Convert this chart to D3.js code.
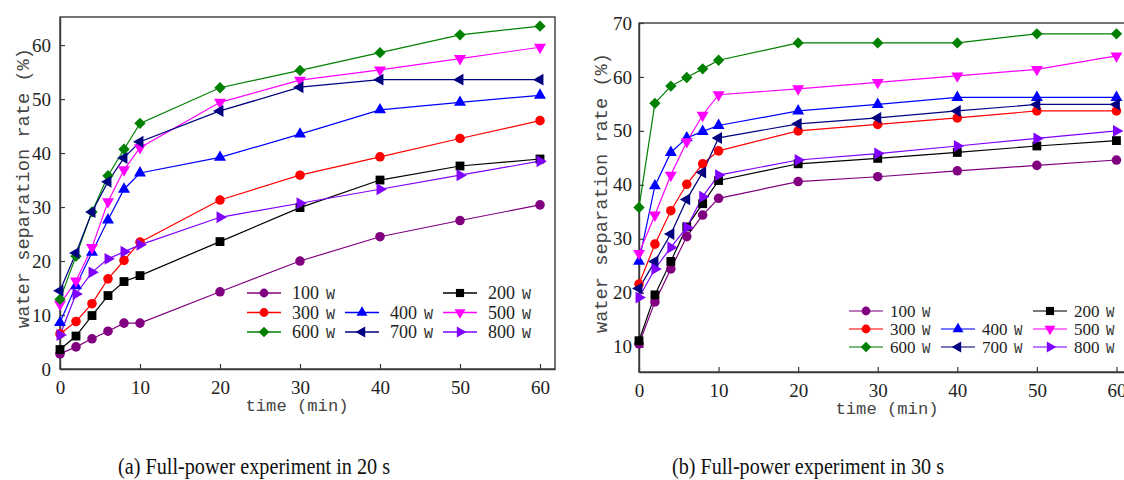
<!DOCTYPE html>
<html>
<head>
<meta charset="utf-8">
<script src="https://cdn.jsdelivr.net/npm/d3@7/dist/d3.min.js"></script>
<style>
  html, body { margin: 0; padding: 0; background: #fff; }
  svg { display: block; }
</style>
</head>
<body>
<svg id="chart" width="1124" height="480"></svg>
<script>
// ---------------- DATA ----------------
const times = [0, 2, 4, 6, 8, 10, 20, 30, 40, 50, 60];
const powers = ["100", "200", "300", "400", "500", "600", "700", "800"];
const xTicks = [0, 10, 20, 30, 40, 50, 60];
const yTicksA = [0, 10, 20, 30, 40, 50, 60];
const yTicksB = [10, 20, 30, 40, 50, 60, 70];

// (a) Full-power experiment in 20 s
const a100 = [2.8, 4.1, 5.6, 7.0, 8.5, 8.5, 14.3, 20.0, 24.5, 27.5, 30.4];
const a200 = [3.6, 6.1, 9.9, 13.6, 16.2, 17.3, 23.6, 29.9, 35.0, 37.6, 38.9];
const a300 = [6.5, 8.8, 12.1, 16.7, 20.1, 23.5, 31.3, 35.9, 39.3, 42.7, 46.0];
const a400 = [8.6, 15.4, 21.6, 27.6, 33.3, 36.3, 39.2, 43.5, 48.0, 49.4, 50.7];
const a500 = [12.0, 16.3, 22.5, 31.0, 36.9, 41.0, 49.4, 53.5, 55.4, 57.5, 59.6];
const a600 = [12.9, 20.9, 29.1, 35.8, 40.7, 45.5, 52.1, 55.3, 58.6, 61.9, 63.5];
const a700 = [14.5, 21.5, 29.1, 34.7, 39.1, 42.1, 47.8, 52.2, 53.6, 53.6, 53.6];
const a800 = [6.3, 13.9, 17.9, 20.4, 21.7, 23.0, 28.1, 30.7, 33.3, 35.9, 38.5];

// (b) Full-power experiment in 30 s
const b100 = [10.5, 18.3, 24.4, 30.4, 34.4, 37.5, 40.6, 41.5, 42.6, 43.6, 44.6];
const b200 = [11.1, 19.6, 25.8, 32.2, 36.5, 40.8, 43.9, 44.9, 46.0, 47.2, 48.2];
const b300 = [21.6, 29.0, 35.2, 40.1, 43.9, 46.3, 50.0, 51.2, 52.4, 53.7, 53.7];
const b400 = [25.8, 39.8, 46.0, 48.7, 49.9, 51.0, 53.7, 54.9, 56.2, 56.2, 56.2];
const b500 = [27.3, 34.4, 41.8, 48.0, 52.9, 56.7, 57.8, 59.0, 60.2, 61.4, 63.9];
const b600 = [35.8, 55.1, 58.3, 59.9, 61.5, 63.1, 66.3, 66.3, 66.3, 68.0, 68.0];
const b700 = [20.8, 25.8, 30.9, 37.3, 42.3, 48.7, 51.3, 52.4, 53.7, 54.9, 54.9];
const b800 = [19.1, 24.4, 28.4, 32.1, 37.8, 41.8, 44.6, 45.8, 47.2, 48.6, 50.0];

const captionA = "(a) Full-power experiment in 20 s";
const captionB = "(b) Full-power experiment in 30 s";
const yTitle = "water separation rate (%)";
const xTitle = "time (min)";
const unit = "W";

// ---------------- STYLE ----------------
const colors = ["#800080", "#000000", "#ff0000", "#0000ff", "#ff00ff", "#008000", "#000080", "#8000ff"];
const markers = [
  [d3.symbolCircle, 0, 72],
  [d3.symbolSquare, 0, 78],
  [d3.symbolCircle, 0, 72],
  [d3.symbolTriangle, 0, 62],
  [d3.symbolTriangle, 180, 62],
  [d3.symbolSquare, 45, 64],
  [d3.symbolTriangle, -90, 62],
  [d3.symbolTriangle, 90, 62]
];
const serif = "'Liberation Serif', 'Times New Roman', serif";
const mono = "'Liberation Mono', 'DejaVu Sans Mono', monospace";

const svg = d3.select("#chart");

function panel(cfg) {
  const x = d3.scaleLinear().domain(cfg.xDomain).range(cfg.xRange);
  const y = d3.scaleLinear().domain(cfg.yDomain).range(cfg.yRange);
  const g = svg.append("g");

  g.append("rect")
    .attr("x", cfg.xRange[0]).attr("y", cfg.yRange[1])
    .attr("width", cfg.xRange[1] - cfg.xRange[0])
    .attr("height", cfg.yRange[0] - cfg.yRange[1])
    .attr("fill", "none").attr("stroke", "#3a3a3a").attr("stroke-width", 1.4);

  const xa = g.append("g").attr("transform", `translate(0,${cfg.yRange[0]})`)
    .call(d3.axisBottom(x).tickValues(xTicks).tickSizeInner(-5).tickSizeOuter(0).tickPadding(12));
  const ya = g.append("g").attr("transform", `translate(${cfg.xRange[0]},0)`)
    .call(d3.axisLeft(y).tickValues(cfg.yTicks).tickSizeInner(-5).tickSizeOuter(0).tickPadding(cfg.yPad));
  [xa, ya].forEach(a => {
    a.select(".domain").attr("stroke", "#3a3a3a").attr("stroke-width", 1.4);
    a.selectAll(".tick line").attr("stroke", "#3a3a3a").attr("stroke-width", 1.2);
    a.selectAll(".tick text").attr("font-family", serif).attr("font-size", 19).attr("fill", "#222");
  });

  g.append("text").attr("x", cfg.xTitleX).attr("y", cfg.yRange[0] + 42)
    .attr("text-anchor", "middle").attr("font-family", mono).attr("font-size", 17).attr("fill", "#444")
    .attr("textLength", 103).attr("lengthAdjust", "spacingAndGlyphs")
    .text(xTitle);
  g.append("text")
    .attr("transform", `translate(${cfg.yTitleX},${cfg.yTitleY}) rotate(-90)`)
    .attr("text-anchor", "middle").attr("dominant-baseline", "central")
    .attr("font-family", mono).attr("font-size", 18).attr("fill", "#444")
    .attr("textLength", 280).attr("lengthAdjust", "spacingAndGlyphs")
    .text(yTitle);

  const line = d3.line().x((d, i) => x(times[i])).y(d => y(d));
  const plot = g.append("g");
  cfg.series.forEach((vals, si) => {
    plot.append("path").datum(vals).attr("d", line)
      .attr("fill", "none").attr("stroke", colors[si]).attr("stroke-width", 1.2);
  });
  cfg.series.forEach((vals, si) => {
    const [type, rot, size] = markers[si];
    const sym = d3.symbol().type(type).size(size);
    plot.selectAll(null).data(vals).join("path")
      .attr("d", sym)
      .attr("transform", (d, i) => `translate(${x(times[i])},${y(d)}) rotate(${rot})`)
      .attr("fill", colors[si]);
  });

  // legend slots as [column, row]
  const slots = [[0, 0], [2, 0], [0, 1], [1, 1], [2, 1], [0, 2], [1, 2], [2, 2]];
  const lg = g.append("g");
  powers.forEach((p, si) => {
    const [c, r] = slots[si];
    const lx = cfg.legX + c * cfg.legColW;
    const ly = cfg.legY + r * cfg.legRowH;
    lg.append("line").attr("x1", lx).attr("x2", lx + 34).attr("y1", ly).attr("y2", ly)
      .attr("stroke", colors[si]).attr("stroke-width", 1.3).attr("stroke-opacity", cfg.legOpacity);
    const [type, rot, size] = markers[si];
    lg.append("path").attr("d", d3.symbol().type(type).size(size * 0.85))
      .attr("transform", `translate(${lx + 17},${ly}) rotate(${rot})`).attr("fill", colors[si]);
    lg.append("text").attr("x", lx + cfg.legTextOff).attr("y", ly + 6)
      .attr("font-family", serif).attr("font-size", cfg.legNumSize).attr("fill", "#222")
      .text(p);
    lg.append("text").attr("x", lx + cfg.legTextOff + cfg.legUnitOff).attr("y", ly + 6)
      .attr("font-family", mono).attr("font-size", cfg.legUnitSize).attr("fill", "#333")
      .text(unit);
  });

  svg.append("text").attr("x", cfg.capX).attr("y", 474)
    .attr("font-family", serif).attr("font-size", 24).attr("fill", "#111")
    .attr("textLength", 272).attr("lengthAdjust", "spacingAndGlyphs")
    .text(cfg.caption);
}

panel({
  xDomain: [0, 61.875], xRange: [60, 555],
  yDomain: [0, 65.2], yRange: [369, 17],
  yTicks: yTicksA, yPad: 9,
  series: [a100, a200, a300, a400, a500, a600, a700, a800],
  xTitleX: 297, yTitleX: 24, yTitleY: 188,
  legX: 247, legY: 293, legColW: 98, legRowH: 19.5, legOpacity: 1,
  legTextOff: 45, legNumSize: 18, legUnitOff: 34, legUnitSize: 15,
  caption: captionA, capX: 118
});

panel({
  xDomain: [0, 61.2], xRange: [639, 1126],
  yDomain: [5.3, 70], yRange: [372, 23],
  yTicks: yTicksB, yPad: 7,
  series: [b100, b200, b300, b400, b500, b600, b700, b800],
  xTitleX: 887, yTitleX: 602, yTitleY: 193,
  legX: 849, legY: 311, legColW: 92, legRowH: 18, legOpacity: 0.7,
  legTextOff: 41, legNumSize: 17, legUnitOff: 32, legUnitSize: 14,
  caption: captionB, capX: 672
});
</script>
</body>
</html>
